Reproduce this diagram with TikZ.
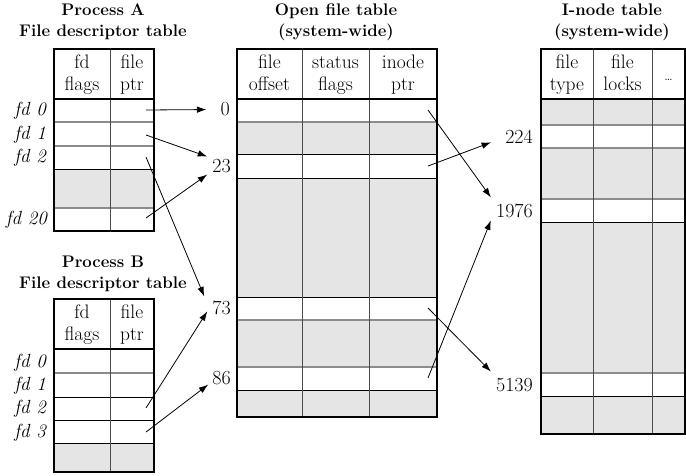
\documentclass[tikz,border=0pt]{standalone}
\usetikzlibrary{arrows.meta}
\begin{document}
\begin{tikzpicture}[x=1pt,y=-1pt,
  body/.style={font=\fontsize{19.5}{22}\selectfont, inner sep=0pt, anchor=base},
  ttl/.style={font=\bfseries\fontsize{16.8}{20}\selectfont, inner sep=0pt, anchor=base},
  fdlab/.style={font=\itshape\fontsize{19}{21}\selectfont, inner sep=0pt, anchor=base east},
  num/.style={font=\fontsize{20}{22}\selectfont, inner sep=0pt, anchor=base east},
  shade/.style={fill=black!10},
  outer/.style={draw=black, line width=1.8pt},
  hdr/.style={draw=black, line width=1.8pt},
  rowk/.style={draw=black, line width=0.8pt},
  rowg/.style={draw=black!45, line width=1.3pt},
  col/.style={draw=black!70, line width=0.9pt},
  ptr/.style={draw=black, line width=0.8pt, -{Latex[length=9.5pt,width=6.5pt]}}
]
\useasboundingbox (0,0) rectangle (686,475);

% ---------- Process A table ----------
\fill[shade] (54,169) rectangle (154,208);
\draw[rowg] (54,122) -- (154,122);
\draw[rowg] (54,146) -- (154,146);
\draw[rowk] (54,169) -- (154,169);
\draw[rowg] (54,208) -- (154,208);
\draw[col] (110,49) -- (110,231);
\draw[hdr] (54,99) -- (154,99);
\draw[outer] (54,49) rectangle (154,231);

\node[ttl] (tA1) at (103,15) {Process A};
\node[ttl] (tA2) at (103,36) {File descriptor table};
\node[body] (hA1a) at (82,68) {fd};
\node[body] (hA1b) at (82,90) {flags};
\node[body] (hA2a) at (132,68) {file};
\node[body] (hA2b) at (132,90) {ptr};
\node[fdlab] (lA0) at (46,115) {fd 0};
\node[fdlab] (lA1) at (46,139) {fd 1};
\node[fdlab] (lA2) at (46,162) {fd 2};
\node[fdlab] (lA20) at (47,224) {fd 20};

% ---------- Process B table ----------
\fill[shade] (54,443) rectangle (154,472);
\draw[rowg] (54,373) -- (154,373);
\draw[rowk] (54,397) -- (154,397);
\draw[rowk] (54,420) -- (154,420);
\draw[rowk] (54,443) -- (154,443);
\draw[col] (110,299) -- (110,472);
\draw[hdr] (54,349) -- (154,349);
\draw[outer] (54,299) rectangle (154,472);

\node[ttl] (tB1) at (103,267) {Process B};
\node[ttl] (tB2) at (103,288) {File descriptor table};
\node[body] (hB1a) at (82,318) {fd};
\node[body] (hB1b) at (82,340) {flags};
\node[body] (hB2a) at (132,318) {file};
\node[body] (hB2b) at (132,340) {ptr};
\node[fdlab] (lB0) at (46,367) {fd 0};
\node[fdlab] (lB1) at (46,390) {fd 1};
\node[fdlab] (lB2) at (46,413) {fd 2};
\node[fdlab] (lB3) at (46,437) {fd 3};

% ---------- Open file table ----------
\fill[shade] (237,122) rectangle (437,154);
\fill[shade] (237,178) rectangle (437,297);
\fill[shade] (237,320) rectangle (437,367);
\fill[shade] (237,390) rectangle (437,417);
\draw[rowg] (237,122) -- (437,122);
\draw[rowk] (237,154) -- (437,154);
\draw[rowk] (237,178) -- (437,178);
\draw[rowk] (237,297) -- (437,297);
\draw[rowg] (237,320) -- (437,320);
\draw[rowg] (237,367) -- (437,367);
\draw[rowk] (237,390) -- (437,390);
\draw[col] (302,49) -- (302,417);
\draw[col] (369,49) -- (369,417);
\draw[hdr] (237,99) -- (437,99);
\draw[outer] (237,49) rectangle (437,417);

\node[ttl] (tO1) at (336,15) {Open file table};
\node[ttl] (tO2) at (336,36) {(system-wide)};
\node[body] (hO1a) at (269.5,68) {file};
\node[body] (hO1b) at (269.5,90) {offset};
\node[body] (hO2a) at (335.5,68) {status};
\node[body] (hO2b) at (335.5,90) {flags};
\node[body] (hO3a) at (403,68) {inode};
\node[body] (hO3b) at (403,90) {ptr};

% ---------- I-node table ----------
\fill[shade] (541,99) rectangle (685,125);
\fill[shade] (541,148) rectangle (685,199);
\fill[shade] (541,222) rectangle (685,373);
\fill[shade] (541,396) rectangle (685,434);
\draw[rowg] (541,125) -- (685,125);
\draw[rowg] (541,148) -- (685,148);
\draw[rowg] (541,199) -- (685,199);
\draw[rowk] (541,222) -- (685,222);
\draw[rowg] (541,373) -- (685,373);
\draw[rowk] (541,396) -- (685,396);
\draw[col] (593,49) -- (593,434);
\draw[col] (652,49) -- (652,434);
\draw[hdr] (541,99) -- (685,99);
\draw[outer] (541,49) rectangle (685,434);

\node[ttl] (tI1) at (612,15) {I-node table};
\node[ttl] (tI2) at (612,36) {(system-wide)};
\node[body] (hI1a) at (567,68) {file};
\node[body] (hI1b) at (567,90) {type};
\node[body] (hI2a) at (622.5,68) {file};
\node[body] (hI2b) at (622.5,90) {locks};
\node[font=\fontsize{13}{14}\selectfont, inner sep=0pt, anchor=base] (hI3) at (668.5,80) {\ldots};

% ---------- numbers ----------
\node[num] (n0) at (230,115) {0};
\node[num] (n23) at (231,172) {23};
\node[num] (n73) at (231,314) {73};
\node[num] (n86) at (231,384) {86};
\node[num] (n224) at (533,143) {224};
\node[num] (n1976) at (533,217) {1976};
\node[num] (n5139) at (533,391) {5139};

% ---------- pointer origins ----------
\coordinate (pA0) at (146,110);
\coordinate (pA1) at (146,135);
\coordinate (pA2) at (146,157);
\coordinate (pA20) at (146,218);
\coordinate (pB2) at (146,408);
\coordinate (pB3) at (146,432);
\coordinate (o0) at (428,110);
\coordinate (o23) at (428,166);
\coordinate (o73) at (428,308);
\coordinate (o86) at (428,378);

% ---------- pointers ----------
\draw[ptr] (pA0) -- ([shift={(-14,1)}]n0.west);
\draw[ptr] (pA1) -- ([shift={(-5,-9)}]n23.west);
\draw[ptr] (pA20) -- ([shift={(-5,9)}]n23.west);
\draw[ptr] (pA2) -- ([shift={(-8,-11)}]n73.west);
\draw[ptr] (pB2) -- ([shift={(-5,4)}]n73.west);
\draw[ptr] (pB3) -- ([shift={(-4,7)}]n86.west);
\draw[ptr] (o0) -- ([shift={(-5,-13)}]n1976.west);
\draw[ptr] (o23) -- ([shift={(-14,6)}]n224.west);
\draw[ptr] (o73) -- ([shift={(-5,-13)}]n5139.west);
\draw[ptr] (o86) -- ([shift={(-5,10)}]n1976.west);
\end{tikzpicture}
\end{document}
